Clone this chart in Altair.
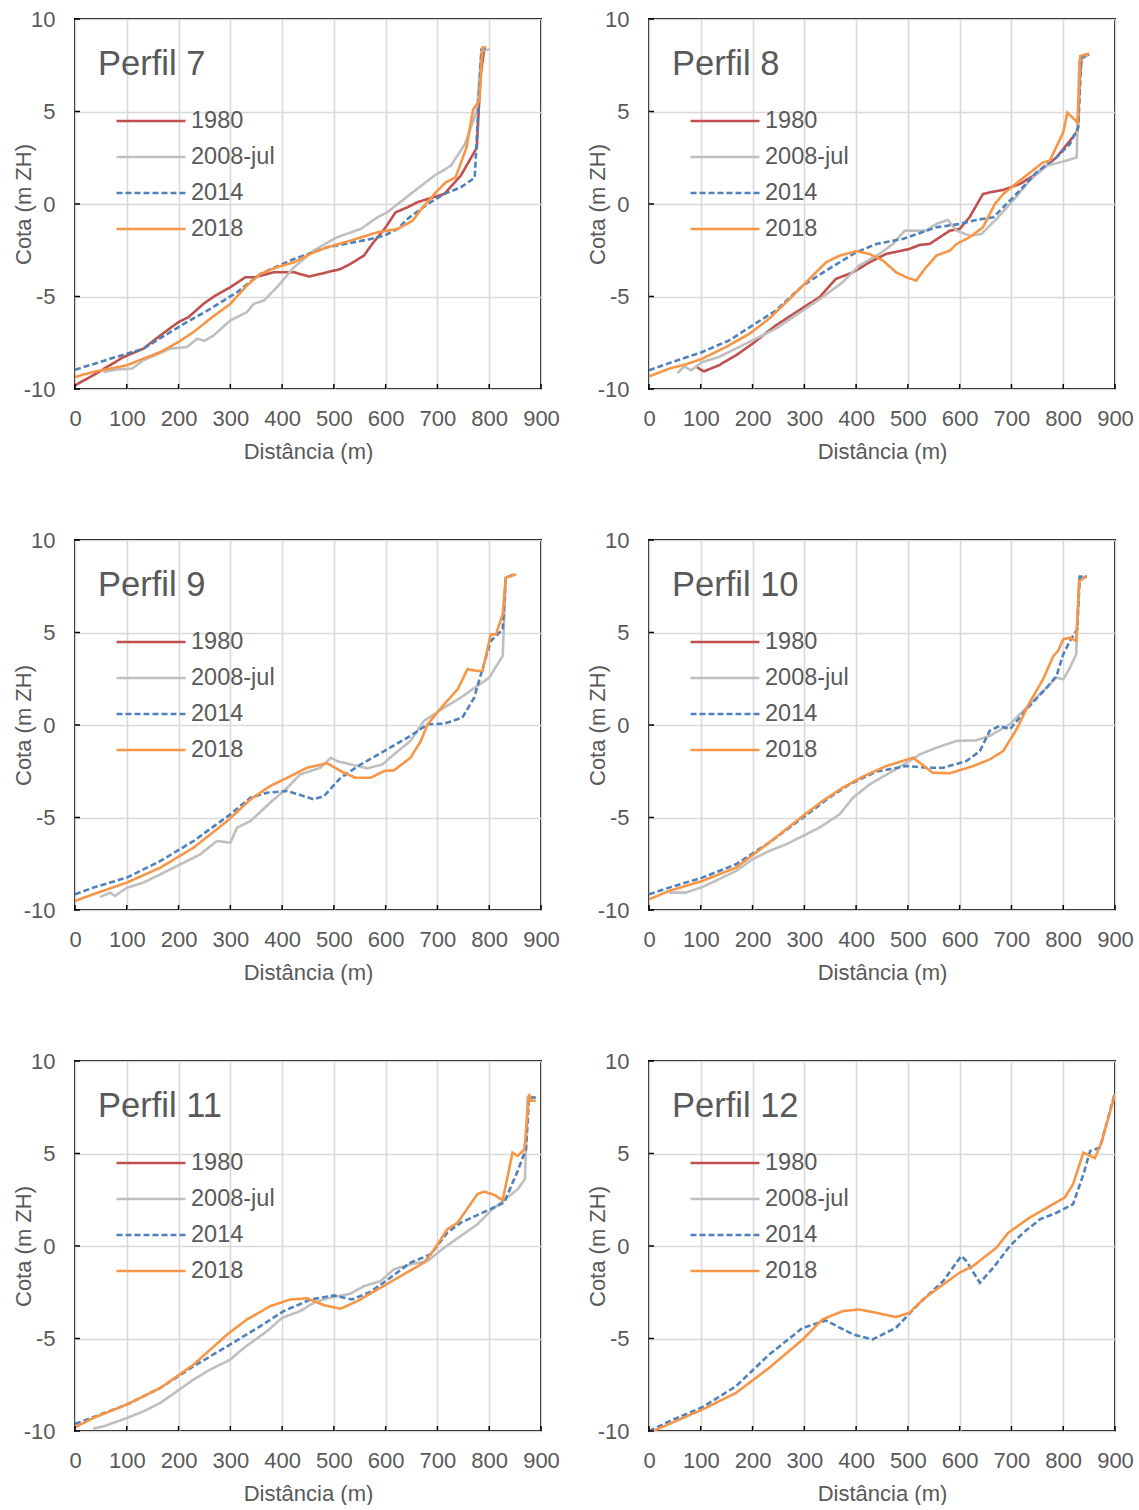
import altair as alt
import pandas as pd

FONT = "Liberation Sans"
GREY_TXT = "#595959"

SERIES = ["1980", "2008-jul", "2014", "2018"]
COLORS = ["#C0504D", "#BFBFBF", "#4F81BD", "#F79646"]
DASHES = [[6, 3], [1, 0], [6, 3], [1, 0]]
DASHES = [[1, 0], [1, 0], [6, 3], [1, 0]]

X_TICKS = [0, 100, 200, 300, 400, 500, 600, 700, 800, 900]
Y_TICKS = [-10, -5, 0, 5, 10]

# ---- Perfil 7 ----
P7_1980 = [(0, -9.8), (35, -9.26), (94, -8.27), (132, -7.82), (165, -7.1), (200, -6.38), (219, -6.12),
           (248, -5.4), (271, -4.95), (300, -4.5), (329, -3.96), (348, -3.96), (384, -3.69), (423, -3.69),
           (452, -3.92), (487, -3.69), (513, -3.51), (532, -3.24), (558, -2.79), (574, -2.16), (600, -1.26),
           (619, -0.45), (642, -0.18), (661, 0.09), (681, 0.27), (713, 0.54), (745, 1.53), (776, 3.04),
           (783, 6.83), (790, 8.3)]
P7_2008 = [(55, -9.08), (80, -8.95), (110, -8.9), (132, -8.45), (184, -7.82), (216, -7.73), (236, -7.28),
           (250, -7.4), (268, -7.1), (300, -6.29), (332, -5.85), (345, -5.4), (365, -5.22), (390, -4.5),
           (423, -3.42), (461, -2.52), (506, -1.8), (552, -1.35), (584, -0.72), (603, -0.45), (648, 0.54),
           (694, 1.53), (726, 2.07), (753, 3.23), (776, 5.03), (785, 8.27), (801, 8.36)]
P7_2014 = [(0, -8.96), (100, -8.09), (132, -7.82), (200, -6.65), (261, -5.67), (313, -4.77), (358, -3.78),
           (423, -2.97), (487, -2.34), (539, -2.07), (571, -1.89), (597, -1.71), (623, -1.35), (642, -0.81),
           (681, 0.0), (713, 0.54), (745, 0.9), (772, 1.42), (779, 5.2), (785, 8.36), (794, 8.42)]
P7_2018 = [(0, -9.35), (35, -9.08), (68, -8.9), (100, -8.72), (132, -8.36), (165, -8.0), (200, -7.46),
           (229, -6.92), (261, -6.2), (300, -5.4), (332, -4.41), (358, -3.78), (390, -3.42), (423, -3.15),
           (461, -2.61), (487, -2.34), (532, -1.98), (584, -1.53), (623, -1.35), (652, -0.9), (674, -0.09),
           (700, 0.72), (716, 1.17), (735, 1.44), (756, 3.04), (769, 5.12), (781, 5.57), (787, 8.45), (794, 8.49)]

# ---- Perfil 8 ----
P8_1980 = [(90, -8.78), (106, -9.05), (135, -8.72), (168, -8.18), (200, -7.55), (245, -6.56), (284, -5.85),
           (329, -5.04), (361, -4.05), (394, -3.69), (426, -3.15), (458, -2.7), (503, -2.43), (523, -2.21),
           (542, -2.16), (581, -1.44), (600, -1.35), (619, -0.72), (645, 0.54), (658, 0.63), (684, 0.76),
           (716, 1.08), (748, 1.62), (787, 2.52), (813, 3.42), (828, 3.95), (832, 7.0), (836, 7.91), (850, 8.09)]
P8_2008 = [(55, -9.14), (68, -8.78), (81, -8.99), (103, -8.54), (135, -8.27), (200, -7.37), (245, -6.74),
           (297, -5.76), (335, -5.04), (374, -4.23), (406, -3.33), (445, -2.7), (471, -2.16), (494, -1.44),
           (535, -1.44), (555, -1.08), (577, -0.86), (594, -1.44), (619, -1.71), (642, -1.62), (671, -0.81),
           (703, 0.18), (735, 1.26), (768, 2.07), (806, 2.34), (826, 2.52), (831, 7.73), (850, 8.09)]
P8_2014 = [(0, -8.99), (39, -8.6), (103, -8.0), (155, -7.37), (200, -6.56), (245, -5.76), (297, -4.41),
           (342, -3.6), (400, -2.61), (439, -2.16), (490, -1.89), (555, -1.26), (600, -1.08), (632, -0.86),
           (665, -0.72), (684, -0.18), (716, 0.72), (748, 1.71), (787, 2.52), (813, 3.24), (829, 4.14),
           (835, 7.91), (850, 8.09)]
P8_2018 = [(0, -9.32), (39, -8.9), (71, -8.67), (103, -8.36), (155, -7.64), (194, -7.01), (232, -6.2),
           (265, -5.31), (297, -4.41), (342, -3.15), (368, -2.79), (400, -2.55), (426, -2.7), (452, -3.06),
           (477, -3.69), (497, -3.96), (516, -4.14), (535, -3.42), (555, -2.79), (581, -2.52), (594, -2.16),
           (619, -1.8), (645, -1.26), (668, 0.0), (684, 0.54), (716, 1.26), (761, 2.25), (774, 2.34),
           (800, 3.87), (808, 4.94), (828, 4.4), (833, 8.0), (850, 8.13)]

# ---- Perfil 9 ----
P9_2008 = [(48, -9.3), (68, -9.06), (77, -9.24), (100, -8.8), (132, -8.52), (165, -8.07), (197, -7.62),
           (242, -6.99), (274, -6.27), (300, -6.36), (313, -5.55), (339, -5.19), (377, -4.2), (410, -3.39),
           (435, -2.67), (474, -2.31), (494, -1.77), (506, -1.95), (532, -2.13), (565, -2.34), (594, -2.13),
           (616, -1.59), (648, -0.86), (674, 0.22), (713, 0.94), (745, 1.48), (777, 2.11), (800, 2.56),
           (826, 3.73), (832, 7.96), (848, 8.14)]
P9_2014 = [(0, -9.15), (35, -8.79), (100, -8.25), (165, -7.35), (229, -6.27), (300, -4.83), (339, -3.93),
           (371, -3.66), (410, -3.57), (435, -3.78), (461, -4.02), (481, -3.84), (513, -2.85), (552, -2.13),
           (597, -1.41), (648, -0.59), (681, 0.04), (713, 0.07), (748, 0.4), (771, 1.48), (784, 2.74),
           (803, 4.54), (826, 5.17), (832, 7.96), (848, 8.14)]
P9_2018 = [(0, -9.51), (35, -9.15), (100, -8.52), (165, -7.71), (229, -6.63), (294, -5.19), (339, -4.02),
           (377, -3.3), (410, -2.85), (448, -2.31), (487, -2.07), (519, -2.58), (542, -2.85), (571, -2.85),
           (597, -2.49), (616, -2.45), (648, -1.77), (668, -0.86), (681, 0.04), (713, 1.12), (739, 1.93),
           (758, 3.01), (777, 2.92), (787, 2.92), (803, 4.9), (813, 4.9), (826, 5.98), (832, 7.96), (852, 8.14)]

# ---- Perfil 10 ----
P10_2008 = [(39, -9.06), (71, -9.06), (103, -8.76), (135, -8.34), (168, -7.89), (200, -7.26), (232, -6.81),
            (265, -6.45), (297, -6.0), (329, -5.55), (368, -4.83), (394, -3.93), (426, -3.21), (465, -2.58),
            (503, -1.95), (523, -1.59), (555, -1.23), (594, -0.86), (632, -0.83), (658, -0.59), (697, 0.04),
            (735, 1.12), (768, 2.02), (787, 2.56), (800, 2.47), (813, 3.1), (825, 3.82), (831, 7.96), (845, 8.02)]
P10_2014 = [(0, -9.15), (39, -8.79), (103, -8.25), (168, -7.53), (232, -6.36), (297, -5.01), (348, -3.93),
            (387, -3.21), (439, -2.52), (497, -2.22), (535, -2.31), (568, -2.31), (613, -1.95), (639, -1.41),
            (658, -0.32), (677, -0.05), (697, -0.23), (735, 1.03), (768, 2.02), (787, 2.65), (800, 3.82),
            (813, 4.54), (827, 5.17), (832, 8.02), (846, 8.02)]
P10_2018 = [(0, -9.42), (39, -8.97), (103, -8.43), (168, -7.71), (232, -6.36), (297, -4.92), (335, -4.11),
            (374, -3.39), (413, -2.79), (458, -2.22), (510, -1.77), (523, -2.04), (548, -2.58), (581, -2.61),
            (626, -2.22), (658, -1.86), (684, -1.41), (710, -0.23), (735, 1.21), (761, 2.47), (781, 3.73),
            (790, 4.0), (800, 4.63), (813, 4.72), (825, 4.54), (831, 7.78), (845, 8.02)]

# ---- Perfil 11 ----
P11_2008 = [(35, -9.87), (55, -9.75), (100, -9.3), (132, -8.94), (165, -8.48), (197, -7.85), (229, -7.22),
            (261, -6.68), (300, -6.14), (326, -5.51), (371, -4.6), (400, -3.88), (435, -3.52), (461, -3.07),
            (487, -2.83), (532, -2.58), (558, -2.17), (590, -1.9), (616, -1.26), (648, -0.99), (681, -0.81),
            (713, -0.09), (745, 0.54), (777, 1.17), (803, 1.9), (835, 2.62), (855, 3.07), (869, 3.61),
            (874, 8.03), (890, 8.03)]
P11_2014 = [(0, -9.62), (35, -9.26), (100, -8.57), (165, -7.67), (229, -6.5), (300, -5.32), (358, -4.33),
            (403, -3.52), (455, -2.89), (500, -2.67), (535, -2.89), (571, -2.47), (600, -1.9), (648, -0.9),
            (687, -0.45), (719, 0.72), (745, 1.26), (797, 1.93), (829, 2.35), (855, 4.06), (871, 5.23),
            (877, 8.03), (890, 8.03)]
P11_2018 = [(0, -9.8), (35, -9.3), (100, -8.57), (165, -7.67), (229, -6.41), (294, -4.78), (332, -3.97),
            (377, -3.25), (416, -2.89), (448, -2.83), (481, -3.2), (513, -3.39), (545, -2.98), (584, -2.35),
            (635, -1.53), (674, -0.9), (694, -0.18), (719, 0.9), (739, 1.26), (777, 2.8), (790, 2.94),
            (810, 2.76), (826, 2.47), (845, 5.05), (855, 4.87), (868, 5.23), (877, 8.21), (881, 7.85), (890, 7.85)]

# ---- Perfil 12 ----
P12_2014 = [(0, -10.0), (39, -9.48), (103, -8.72), (168, -7.58), (232, -5.87), (297, -4.42), (342, -4.03),
            (394, -4.78), (432, -5.05), (477, -4.42), (523, -3.07), (568, -1.9), (603, -0.54), (613, -0.81),
            (639, -1.99), (665, -1.17), (697, 0.0), (723, 0.72), (755, 1.44), (787, 1.8), (819, 2.26),
            (839, 3.88), (852, 5.14), (871, 5.32), (900, 8.3)]
P12_2018 = [(0, -10.1), (39, -9.62), (103, -8.84), (168, -7.94), (232, -6.59), (297, -5.05), (335, -3.97),
            (374, -3.52), (406, -3.43), (439, -3.61), (477, -3.84), (503, -3.61), (529, -2.89), (568, -2.08),
            (600, -1.44), (626, -1.08), (671, -0.09), (694, 0.72), (735, 1.53), (803, 2.62), (819, 3.34),
            (839, 5.05), (861, 4.75), (874, 5.6), (900, 8.21)]

PANELS = [
    ("Perfil 7", [("1980", P7_1980), ("2008-jul", P7_2008), ("2014", P7_2014), ("2018", P7_2018)]),
    ("Perfil 8", [("1980", P8_1980), ("2008-jul", P8_2008), ("2014", P8_2014), ("2018", P8_2018)]),
    ("Perfil 9", [("2008-jul", P9_2008), ("2014", P9_2014), ("2018", P9_2018)]),
    ("Perfil 10", [("2008-jul", P10_2008), ("2014", P10_2014), ("2018", P10_2018)]),
    ("Perfil 11", [("2008-jul", P11_2008), ("2014", P11_2014), ("2018", P11_2018)]),
    ("Perfil 12", [("2014", P12_2014), ("2018", P12_2018)]),
]

W, H = 466, 370
HYPHEN_LABEL = "replace(datum.label, '\u2212', '-')"


def panel(title, series_data):
    rows = []
    for s, pts in series_data:
        for i, (d, v) in enumerate(pts):
            rows.append({"series": s, "dist": d, "cota": v, "idx": i})
    df = pd.DataFrame(rows)

    legend = alt.Legend(
        title=None, orient="none", legendX=40, legendY=90, padding=0,
        symbolType="stroke", symbolSize=4761, symbolStrokeWidth=2.5,
        labelFont=FONT, labelFontSize=23.5, labelColor=GREY_TXT, labelOffset=4,
        rowPadding=12, clipHeight=24,
    )
    xaxis = alt.Axis(values=X_TICKS, title="Distância (m)", labelPadding=19, titlePadding=12,
                     labelFlush=False, labelOverlap=False)
    yaxis = alt.Axis(values=Y_TICKS, title="Cota (m ZH)", labelPadding=20, titleX=-52, titleY=H / 2,
                     titleAngle=270, titleAlign="center", titleBaseline="middle", labelOverlap=False,
                     labelExpr=HYPHEN_LABEL)

    xs = alt.X("dist:Q", scale=alt.Scale(domain=[0, 900], nice=False, zero=False), axis=xaxis)
    ys = alt.Y("cota:Q", scale=alt.Scale(domain=[-10, 10], nice=False, zero=False), axis=yaxis)

    lines = alt.Chart(df).mark_line(strokeWidth=2.6, clip=True).encode(
        x=xs, y=ys,
        color=alt.Color("series:N", scale=alt.Scale(domain=SERIES, range=COLORS), legend=legend),
        strokeDash=alt.StrokeDash("series:N", scale=alt.Scale(domain=SERIES, range=DASHES), legend=legend),
        order=alt.Order("idx:Q"),
    )
    xt = alt.Chart(pd.DataFrame({"dist": X_TICKS})).mark_rule(color="black", strokeWidth=1.5).encode(
        x="dist:Q", y=alt.value(H), y2=alt.value(H - 5))
    yt = alt.Chart(pd.DataFrame({"cota": Y_TICKS})).mark_rule(color="black", strokeWidth=1.5).encode(
        y="cota:Q", x=alt.value(0), x2=alt.value(5))
    lab = alt.Chart(pd.DataFrame({"t": [title]})).mark_text(
        align="left", baseline="alphabetic", font=FONT, fontSize=34.5, color=GREY_TXT
    ).encode(x=alt.value(23), y=alt.value(56), text="t:N")

    return alt.layer(lines, xt, yt, lab).properties(width=W, height=H)


charts = [panel(t, s) for t, s in PANELS]

chart = alt.concat(
    *charts, columns=2, spacing={"row": 151, "column": 108}, bounds="flush"
).resolve_scale(
    color="independent", strokeDash="independent"
).resolve_legend(
    color="independent", strokeDash="independent"
)

chart = chart.properties(
    padding={"left": 11, "top": 7, "right": 0, "bottom": 0},
    background="white",
).configure_axis(
    labelFont=FONT, labelFontSize=22, labelColor=GREY_TXT,
    titleFont=FONT, titleFontSize=22, titleColor=GREY_TXT, titleFontWeight="normal",
    gridColor="#d9d9d9", gridWidth=1.6, domain=False, ticks=False, tickSize=0,
).configure_view(stroke="black", strokeWidth=2)

chart.save("out.html", embed_options={"renderer": "svg", "actions": False})
